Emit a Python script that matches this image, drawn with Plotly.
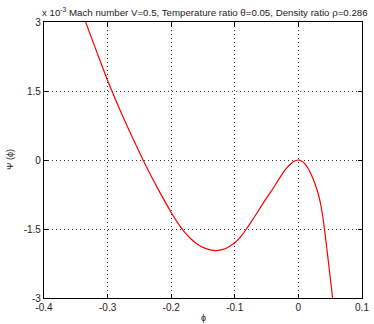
import plotly.graph_objects as go

phi = [-0.34, -0.32, -0.30, -0.28, -0.26, -0.24, -0.22, -0.20, -0.19, -0.18, -0.17, -0.16,
       -0.15, -0.14, -0.13, -0.12, -0.11, -0.10, -0.09, -0.08, -0.07, -0.06, -0.05, -0.04,
       -0.03, -0.02, -0.01, -0.005, 0.0, 0.005, 0.01, 0.015, 0.02, 0.025, 0.03, 0.035, 0.04, 0.045,
       0.05, 0.055]
psi = [3.20, 2.46, 1.73, 1.07, 0.46, -0.12, -0.65, -1.14, -1.36, -1.55, -1.70, -1.82,
       -1.90, -1.95, -1.97, -1.95, -1.89, -1.80, -1.655, -1.465, -1.255, -1.04, -0.825, -0.62,
       -0.40, -0.20, -0.06, -0.015, 0.0, -0.02, -0.08, -0.18, -0.31, -0.48, -0.68, -0.96, -1.40, -1.96,
       -2.55, -3.15]

xticks = [-0.4, -0.3, -0.2, -0.1, 0, 0.1]
xticklabels = ["-0.4", "-0.3", "-0.2", "-0.1", "0", "0.1"]
yticks = [-3, -1.5, 0, 1.5, 3]
yticklabels = ["-3", "-1.5", "0", "1.5", "3"]

font_family = "Liberation Sans, Arial, sans-serif"

fig = go.Figure()
fig.add_trace(go.Scatter(x=phi, y=psi, mode="lines",
                         line=dict(color="#ff0000", width=1.2, shape="spline", smoothing=1.0,
                                   simplify=False),
                         hoverinfo="skip"))

axis_common = dict(showline=True, linecolor="black", linewidth=1.2, mirror="ticks",
                   ticks="inside", ticklen=4, tickcolor="black",
                   showgrid=True, gridcolor="#333", griddash="1px,3px", gridwidth=1,
                   zeroline=False, ticklabeloverflow="allow",
                   tickfont=dict(size=10, color="#222", family=font_family))

fig.update_layout(
    width=374, height=324,
    margin=dict(l=44, r=5, t=22, b=26),
    paper_bgcolor="white", plot_bgcolor="white",
    showlegend=False,
    font=dict(family=font_family, size=10, color="#222"),
    xaxis=dict(range=[-0.4, 0.1], tickvals=xticks, ticktext=xticklabels, **axis_common),
    yaxis=dict(range=[-3, 3], tickvals=yticks, ticktext=yticklabels, **axis_common),
    annotations=[
        dict(text="x 10<sup>-3</sup> Mach number V=0.5, Temperature ratio θ=0.05, Density ratio ρ=0.286",
             xref="paper", yref="paper", x=0, y=1, xanchor="left", yanchor="bottom",
             xshift=-4, yshift=2, showarrow=False, font=dict(size=9.7, color="#222")),
        dict(text="ϕ", xref="paper", yref="paper", x=0.5, y=0, xanchor="center", yanchor="top",
             yshift=-13, showarrow=False, font=dict(size=9, color="#222")),
        dict(text="Ψ (ϕ)", xref="paper", yref="paper", x=0, y=0.5, xanchor="center", yanchor="middle",
             xshift=-34, textangle=-90, showarrow=False, font=dict(size=9, color="#222")),
    ],
)

fig.write_html("out.html", config={"displayModeBar": False},
               post_script="document.body.style.margin='0';")
